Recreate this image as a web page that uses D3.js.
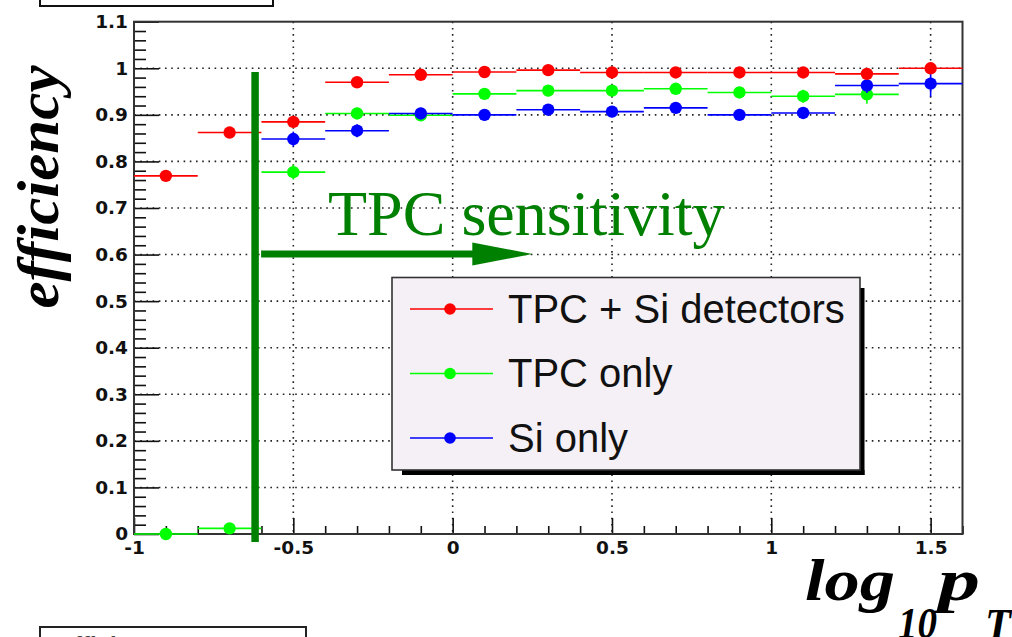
<!DOCTYPE html>
<html>
<head>
<meta charset="utf-8">
<script src="https://cdn.jsdelivr.net/npm/d3@7"></script>
<style>
  html, body { margin: 0; padding: 0; background: #fff; }
  svg { display: block; }
</style>
</head>
<body>
<div id="chart"></div>
<script>
// ---- data ----
const binCenters = [-0.9, -0.7, -0.5, -0.3, -0.1, 0.1, 0.3, 0.5, 0.7, 0.9, 1.1, 1.3, 1.5];
const binHalfWidth = 0.1;
const effTPCSi = [0.769, 0.862, 0.885, 0.970, 0.986, 0.992, 0.996, 0.991, 0.991, 0.991, 0.991, 0.988, 1.000];
const errTPCSi = [0.012, 0.010, 0.010, 0.008, 0.008, 0.008, 0.008, 0.008, 0.008, 0.008, 0.008, 0.010, 0.012];
const effTPC   = [0.000, 0.012, 0.777, 0.903, 0.899, 0.945, 0.952, 0.952, 0.956, 0.948, 0.940, 0.944, null];
const errTPC   = [0.004, 0.006, 0.016, 0.012, 0.012, 0.012, 0.012, 0.012, 0.012, 0.012, 0.014, 0.020, null];
const effSi    = [null, null, 0.848, 0.866, 0.903, 0.900, 0.911, 0.907, 0.915, 0.900, 0.904, 0.963, 0.967];
const errSi    = [null, null, 0.016, 0.014, 0.012, 0.012, 0.012, 0.012, 0.012, 0.012, 0.012, 0.016, 0.028];
const seriesNames = ["TPC + Si detectors", "TPC only", "Si only"];
const seriesColors = ["#ff0000", "#00ff00", "#0000ff"];
const xMajorTicks = [-1, -0.5, 0, 0.5, 1, 1.5];
const xTickLabels = ["-1", "-0.5", "0", "0.5", "1", "1.5"];
const xMinorTicks = [-0.9,-0.8,-0.7,-0.6,-0.4,-0.3,-0.2,-0.1,0.1,0.2,0.3,0.4,0.6,0.7,0.8,0.9,1.1,1.2,1.3,1.4,1.6];
const yMajorTicks = [0, 0.1, 0.2, 0.3, 0.4, 0.5, 0.6, 0.7, 0.8, 0.9, 1.0, 1.1];
const yTickLabels = ["0", "0.1", "0.2", "0.3", "0.4", "0.5", "0.6", "0.7", "0.8", "0.9", "1", "1.1"];
const yMinorTicks = d3.range(0, 56).map(i => i * 0.02).filter(v => Math.abs(v * 10 - Math.round(v * 10)) > 1e-6);
const sensitivityCut = -0.62;
const arrowEnd = 0.25;

// ---- setup ----
const W = 1012, H = 637;
const svg = d3.select("#chart").append("svg").attr("width", W).attr("height", H);
const x = d3.scaleLinear().domain([-1, 1.6]).range([134, 962.5]);
const y = d3.scaleLinear().domain([0, 1.1]).range([534, 21.7]);
const green = "#008000";

// partial boxes at the top-left and bottom-left
svg.append("rect").attr("x", 40).attr("y", -10).attr("width", 233).attr("height", 16)
  .attr("fill", "#fff").attr("stroke", "#111").attr("stroke-width", 2);
svg.append("rect").attr("x", 40).attr("y", 627).attr("width", 266).attr("height", 30)
  .attr("fill", "#fff").attr("stroke", "#222").attr("stroke-width", 2);
svg.append("text").attr("x", 58).attr("y", 653.5).attr("font-family", "Liberation Sans, Arial")
  .attr("font-weight", "bold").attr("font-size", 24).attr("fill", "#444").text("Efficiency");

// grid
const grid = svg.append("g").attr("stroke", "#222").attr("stroke-width", 1.6).attr("stroke-dasharray", "1.6,4.6");
grid.selectAll("line.gy").data(yMajorTicks.filter(v => v > 0 && v < 1.05)).enter().append("line")
  .attr("x1", x(-1)).attr("x2", x(1.6)).attr("y1", d => y(d)).attr("y2", d => y(d));
grid.selectAll("line.gx").data(xMajorTicks.filter(v => v > -1)).enter().append("line")
  .attr("y1", y(1.1)).attr("y2", y(0)).attr("x1", d => x(d)).attr("x2", d => x(d));

// axes
const fontAxis = "DejaVu Sans, Verdana, sans-serif";
const yAx = svg.append("g").attr("transform", `translate(${x(-1)},0)`)
  .call(d3.axisLeft(y).tickValues(yMajorTicks).tickSize(-25).tickSizeOuter(0).tickPadding(6)
    .tickFormat((d, i) => yTickLabels[i]));
svg.append("g").attr("transform", `translate(${x(-1)},0)`)
  .call(d3.axisLeft(y).tickValues(yMinorTicks).tickSize(-12).tickSizeOuter(0).tickFormat(""))
  .call(g => g.select(".domain").remove());
const xAx = svg.append("g").attr("transform", `translate(0,${y(0)})`)
  .call(d3.axisBottom(x).tickValues(xMajorTicks).tickSize(-16).tickSizeOuter(0).tickPadding(7)
    .tickFormat((d, i) => xTickLabels[i]));
svg.append("g").attr("transform", `translate(0,${y(0)})`)
  .call(d3.axisBottom(x).tickValues(xMinorTicks).tickSize(-8).tickSizeOuter(0).tickFormat(""))
  .call(g => g.select(".domain").remove());
svg.selectAll(".tick line").attr("stroke", "#111").attr("stroke-width", 1.6);
[yAx, xAx].forEach(g => {
  g.select(".domain").remove();
  g.selectAll("text").attr("font-family", fontAxis).attr("font-weight", "bold")
    .attr("font-size", 18.5).attr("fill", "#111");
});

// frame
svg.append("rect").attr("x", x(-1)).attr("y", y(1.1)).attr("width", x(1.6) - x(-1)).attr("height", y(0) - y(1.1))
  .attr("fill", "none").attr("stroke", "#333").attr("stroke-width", 2);

// data series
const series = [
  { vals: effTPCSi, errs: errTPCSi },
  { vals: effTPC, errs: errTPC },
  { vals: effSi, errs: errSi }
];
const drawOrder = [1, 2, 0];
drawOrder.forEach(si => {
  const s = series[si];
  const col = seriesColors[si];
  const pts = binCenters.map((c, i) => ({ c, v: s.vals[i], e: s.errs[i] })).filter(d => d.v !== null);
  const g = svg.append("g");
  g.selectAll("line.h").data(pts).enter().append("line")
    .attr("x1", d => x(d.c - binHalfWidth)).attr("x2", d => x(d.c + binHalfWidth))
    .attr("y1", d => y(d.v)).attr("y2", d => y(d.v))
    .attr("stroke", col).attr("stroke-width", 1.6);
  g.selectAll("line.v").data(pts).enter().append("line")
    .attr("x1", d => x(d.c)).attr("x2", d => x(d.c))
    .attr("y1", d => y(Math.max(0, d.v - d.e))).attr("y2", d => y(d.v + d.e))
    .attr("stroke", col).attr("stroke-width", 1.6);
  g.selectAll("circle").data(pts).enter().append("circle")
    .attr("cx", d => x(d.c)).attr("cy", d => y(d.v)).attr("r", 6.2).attr("fill", col);
});

// TPC sensitivity marker
svg.append("line").attr("x1", x(sensitivityCut)).attr("x2", x(sensitivityCut))
  .attr("y1", 72).attr("y2", 542).attr("stroke", green).attr("stroke-width", 7.5);
const ay = 254;
svg.append("line").attr("x1", x(sensitivityCut) + 6).attr("x2", x(arrowEnd) - 58)
  .attr("y1", ay).attr("y2", ay).attr("stroke", green).attr("stroke-width", 7);
svg.append("path")
  .attr("d", `M${x(arrowEnd) - 60},${ay - 11.5} L${x(arrowEnd)},${ay} L${x(arrowEnd) - 60},${ay + 11.5} Z`)
  .attr("fill", green);
svg.append("text").attr("x", 328).attr("y", 235)
  .attr("font-family", "Liberation Serif, Times New Roman, serif").attr("font-size", 64)
  .attr("fill", green).text("TPC sensitivity");

// legend
const lg = svg.append("g");
lg.append("rect").attr("x", 860).attr("y", 288).attr("width", 4.5).attr("height", 187).attr("fill", "#000");
lg.append("rect").attr("x", 402).attr("y", 470).attr("width", 462.5).attr("height", 5).attr("fill", "#000");
lg.append("rect").attr("x", 392).attr("y", 277.5).attr("width", 468).attr("height", 192.5)
  .attr("fill", "#f5f0f5").attr("stroke", "#333").attr("stroke-width", 1.6);
const rowY = [309, 373.5, 438];
seriesNames.forEach((name, i) => {
  lg.append("line").attr("x1", 410).attr("x2", 493).attr("y1", rowY[i]).attr("y2", rowY[i])
    .attr("stroke", seriesColors[i]).attr("stroke-width", 1.6);
  lg.append("circle").attr("cx", 450).attr("cy", rowY[i]).attr("r", 5.8).attr("fill", seriesColors[i]);
  lg.append("text").attr("x", 508).attr("y", rowY[i] + 13.5)
    .attr("font-family", "Liberation Sans, Arial, sans-serif").attr("font-size", 40)
    .attr("fill", "#111").text(name);
});

// axis titles
const serif = "Liberation Serif, Times New Roman, serif";
svg.append("text")
  .attr("transform", "translate(58,187) rotate(-90)")
  .attr("text-anchor", "middle")
  .attr("font-family", serif)
  .attr("font-style", "italic").attr("font-weight", "bold").attr("font-size", 60)
  .attr("textLength", 243).attr("lengthAdjust", "spacingAndGlyphs")
  .attr("fill", "#000").text("efficiency");

const titleParts = [
  { t: "log", x: 805, y: 600, size: 60, len: 90 },
  { t: "10",  x: 898, y: 638, size: 44, len: 39 },
  { t: "p",   x: 938, y: 600, size: 60, len: 42 },
  { t: "T",   x: 985, y: 639, size: 44, len: 26 }
];
titleParts.forEach(p => {
  svg.append("text").attr("x", p.x).attr("y", p.y)
    .attr("font-family", serif).attr("font-style", "italic").attr("font-weight", "bold")
    .attr("font-size", p.size).attr("textLength", p.len).attr("lengthAdjust", "spacingAndGlyphs")
    .attr("fill", "#000").text(p.t);
});
</script>
</body>
</html>
